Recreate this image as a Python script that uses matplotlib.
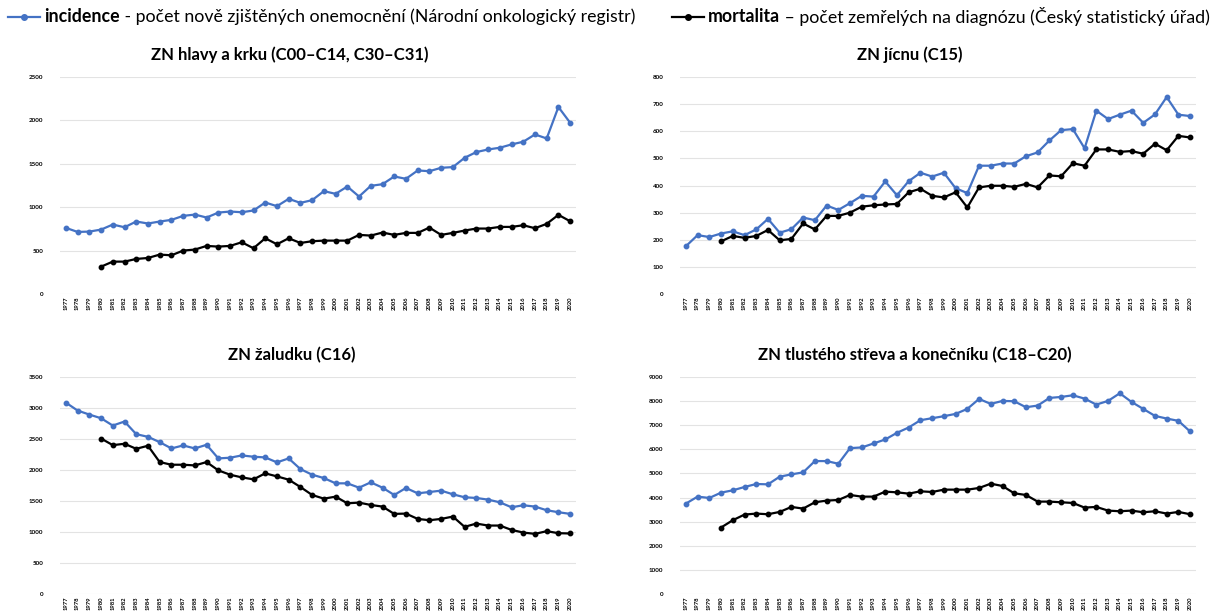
"""Incidence vs mortality, four cancer diagnoses (CZ)."""
import matplotlib.pyplot as plt
import numpy as np
from matplotlib.lines import Line2D

plt.rcParams["font.family"] = ["Lato", "DejaVu Sans"]

years = list(range(1977, 2021))
mort_start = 1980

# ZN hlavy a krku
hlava_inc = [762, 715, 719, 742, 800, 769, 835, 812, 835, 854, 900, 915, 881, 938, 950,
             942, 962, 1054, 1012, 1096, 1050, 1081, 1185, 1154, 1238, 1123, 1246, 1265,
             1354, 1327, 1423, 1415, 1454, 1462, 1569, 1635, 1665, 1685, 1723, 1754, 1838,
             1792, 2154, 1973]
hlava_mort = [315, 373, 373, 404, 415, 454, 446, 500, 512, 554, 546, 554, 596, 527, 642,
              573, 642, 588, 608, 615, 615, 615, 681, 673, 708, 681, 704, 704, 765, 681,
              704, 731, 754, 754, 773, 773, 792, 758, 808, 912, 838]

# ZN jicnu
jicen_inc = [176, 217, 210, 223, 231, 217, 238, 277, 226, 239, 282, 272, 326, 310, 335,
             362, 359, 415, 364, 416, 447, 433, 447, 390, 372, 473, 473, 481, 481, 508,
             522, 566, 604, 608, 537, 676, 645, 661, 676, 631, 662, 726, 661, 656]
jicen_mort = [194, 214, 207, 214, 236, 198, 203, 260, 238, 288, 288, 300, 322, 327, 330,
              332, 375, 388, 362, 356, 375, 319, 393, 399, 399, 395, 406, 393, 437, 434,
              482, 473, 533, 533, 524, 527, 517, 554, 530, 583, 577]

# ZN zaludku
zaludek_inc = [3087, 2959, 2894, 2835, 2717, 2782, 2578, 2535, 2449, 2348, 2396, 2348,
               2407, 2187, 2198, 2235, 2214, 2203, 2123, 2187, 2015, 1924, 1870, 1785,
               1785, 1715, 1801, 1715, 1597, 1710, 1624, 1645, 1667, 1608, 1560, 1549,
               1522, 1479, 1399, 1431, 1410, 1351, 1319, 1292]
zaludek_mort = [2508, 2401, 2423, 2342, 2391, 2128, 2085, 2085, 2074, 2128, 1994, 1924,
                1881, 1849, 1946, 1897, 1844, 1726, 1597, 1538, 1570, 1463, 1474, 1436,
                1410, 1292, 1297, 1211, 1190, 1211, 1249, 1083, 1136, 1104, 1104, 1034,
                991, 970, 1013, 981, 976]

# ZN tlusteho streva a konecniku
strevo_inc = [3749, 4038, 3983, 4204, 4300, 4438, 4562, 4548, 4865, 4962, 5044, 5513,
              5513, 5403, 6050, 6078, 6243, 6409, 6685, 6905, 7208, 7291, 7374, 7470,
              7677, 8090, 7884, 8008, 7994, 7746, 7815, 8132, 8173, 8242, 8104, 7856,
              8008, 8325, 7966, 7677, 7387, 7277, 7181, 6740]
strevo_mort = [2757, 3060, 3294, 3335, 3308, 3404, 3611, 3542, 3804, 3873, 3900, 4107,
               4038, 4038, 4245, 4217, 4162, 4259, 4231, 4328, 4328, 4328, 4397, 4576,
               4479, 4176, 4107, 3832, 3832, 3804, 3776, 3583, 3611, 3459, 3432, 3459,
               3390, 3432, 3335, 3404, 3308]

panels = [
    ("ZN hlavy a krku (C00–C14, C30–C31)", hlava_inc, hlava_mort, 2500, 500),
    ("ZN jícnu (C15)", jicen_inc, jicen_mort, 800, 100),
    ("ZN žaludku (C16)", zaludek_inc, zaludek_mort, 3500, 500),
    ("ZN tlustého střeva a konečníku (C18–C20)", strevo_inc, strevo_mort, 9000, 1000),
]

BLUE = "#4472C4"
W, H = 1214, 616
fig = plt.figure(figsize=(W / 100, H / 100), dpi=100)

# axes boxes in pixels: left, top(of ymax), right, bottom(of 0)
boxes = [(60, 77, 576, 294), (680, 77, 1196, 294),
         (60, 377, 576, 594), (680, 377, 1196, 594)]
title_x = [290, 910, 292, 915]
title_y = [55, 55, 355, 355]

x = np.arange(len(years))
off = years.index(mort_start)

for (title, inc, mort, ymax, step), (l, t, r, b), tx, ty in zip(panels, boxes, title_x, title_y):
    ax = fig.add_axes([l / W, 1 - b / H, (r - l) / W, (b - t) / H])
    ax.plot(x, inc, color=BLUE, lw=1.6, marker="o", ms=3.2)
    ax.plot(x[off:], mort, color="black", lw=1.6, marker="o", ms=3.2)
    ax.set_xlim(-0.5, len(years) - 0.5)
    ax.set_ylim(0, ymax)
    ax.set_yticks(np.arange(0, ymax + 1, step))
    ax.set_xticks(x)
    ax.set_xticklabels(years, rotation=90, fontsize=4.2, fontweight="bold")
    ax.tick_params(axis="y", labelsize=4.5, length=0, pad=12)
    ax.tick_params(axis="x", length=0, pad=2)
    for lab in ax.get_yticklabels():
        lab.set_fontweight("bold")
    ax.grid(axis="y", color="#E3E3E3", lw=0.8)
    ax.set_axisbelow(True)
    for s in ax.spines.values():
        s.set_visible(False)
    fig.text(tx / W, 1 - ty / H, title, ha="center", va="center",
             fontsize=12, fontweight="bold")


# legend drawn at the top
def legend_item(x0, color, bold, rest):
    y = 1 - 17 / H
    fig.add_artist(Line2D([x0 / W, (x0 + 32) / W], [y, y], color=color, lw=1.6,
                          transform=fig.transFigure))
    fig.add_artist(Line2D([(x0 + 16) / W], [y], color=color, marker="o", ms=4,
                          transform=fig.transFigure))
    t1 = fig.text((x0 + 36) / W, y, bold, fontsize=12.8, fontweight="bold",
                  ha="left", va="center")
    plt.annotate(rest, xy=(1, 0.5), xycoords=t1, va="center", ha="left",
                 fontsize=12.8, annotation_clip=False)


legend_item(8, BLUE, "incidence",
            " - počet nově zjištěných onemocnění (Národní onkologický registr)")
legend_item(672, "black", "mortalita",
            " – počet zemřelých na diagnózu (Český statistický úřad)")

fig.savefig("out.png", dpi=100, facecolor="white")
